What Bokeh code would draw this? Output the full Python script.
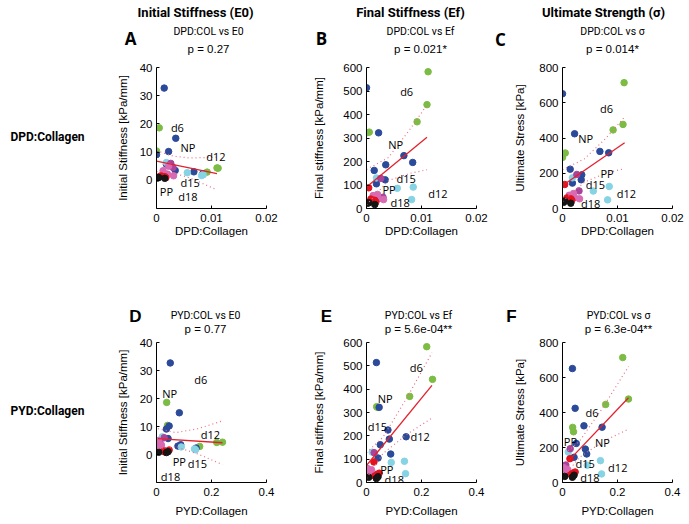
from bokeh.plotting import figure
from bokeh.models import FixedTicker, NumeralTickFormatter, Range1d, ColumnDataSource
from bokeh.layouts import row, column
from bokeh.embed import file_html
from bokeh.resources import INLINE
from bokeh.core.properties import value

# ---------------- data ----------------
sample_group = (["green"] * 5 + ["blue"] * 8 + ["cyan"] * 4 + ["magenta"] * 2 +
                ["pink"] * 4 + ["red"] * 4 + ["black"] * 3)
dpd_col = [0.0112, 0.0110, 0.0092, 0.0005, 0.0000,
           0.0000, 0.0022, 0.0068, 0.0084, 0.0035, 0.0014, 0.0018, 0.0034,
           0.0018, 0.0056, 0.0085, 0.0082,
           0.0026, 0.0030,
           0.0012, 0.0022, 0.0031, 0.0020,
           0.0004, 0.0015, 0.0017, 0.0008,
           0.0002, 0.0015, 0.0004]
pyd_col = [0.219, 0.240, 0.157, 0.037, 0.040,
           0.036, 0.046, 0.078, 0.144, 0.083, 0.050, 0.042, 0.088,
           0.021, 0.090, 0.138, 0.142,
           0.028, 0.012,
           0.018, 0.008, 0.025, 0.004,
           0.027, 0.040, 0.030, 0.046,
           0.008, 0.036, 0.042]
e0 = [4.3, 4.4, 2.9, 18.6, 10.4,
      9.1, 10.2, 3.0, 2.3, 14.9, 32.7, 5.7, 3.5,
      6.3, 2.7, 2.0, 1.7,
      6.0, 4.5,
      3.4, 5.0, 1.6, 2.2,
      1.2, 1.3, 0.9, 1.6,
      0.8, 0.7, 1.0]
ef = [582, 442, 369, 325, 322,
      514, 322, 225, 196, 186, 162, 105, 122,
      130, 86, 91, 38,
      128, 48,
      55, 42, 38, 60,
      88, 35, 28, 40,
      22, 17, 25]
sigma = [714, 477, 446, 315, 290,
         651, 424, 324, 316, 191, 223, 144, 163,
         174, 99, 125, 49,
         193, 100,
         75, 62, 55, 85,
         136, 55, 47, 60,
         35, 30, 42]

group_colors = {"green": "#7cbc44", "blue": "#2c4a9a", "cyan": "#86d3e4",
                "magenta": "#a8449a", "pink": "#d86ab4", "red": "#e3121f",
                "black": "#151515"}

# regression lines and dotted confidence bounds
fit_x = {"A": [0, 0.011], "B": [0, 0.011], "C": [0, 0.0113],
         "D": [0.005, 0.24], "E": [0, 0.238], "F": [0.02, 0.24]}
fit_y = {"A": [6.8, 2.4], "B": [91, 303], "C": [130, 373],
         "D": [5.7, 4.2], "E": [73, 416], "F": [121, 484]}
ci_x = {"A": [0, 0.003, 0.006, 0.011], "B": [0, 0.004, 0.008, 0.011],
        "C": [0, 0.004, 0.008, 0.0113], "D": [0.005, 0.07, 0.15, 0.24],
        "E": [0, 0.06, 0.15, 0.238], "F": [0.02, 0.06, 0.15, 0.24]}
ci_up = {"A": [10.5, 8.6, 7.9, 8.2], "B": [166, 217, 340, 441],
         "C": [220, 282, 402, 520], "D": [9.2, 7.8, 9.2, 12.0],
         "E": [128, 194, 369, 556], "F": [181, 232, 436, 663]}
ci_lo = {"A": [3.1, 2.6, 0.9, -3.4], "B": [16, 119, 150, 165],
         "C": [40, 150, 202, 226], "D": [2.2, 2.8, 0.2, -3.6],
         "E": [18, 124, 209, 276], "F": [61, 142, 236, 305]}

group_names = ["d6", "NP", "d12", "d15", "PP", "d18"]
name_x = {"A": [0.0038, 0.0057, 0.0108, 0.0061, 0.0018, 0.0057],
          "B": [0.0073, 0.0053, 0.0130, 0.0072, 0.0041, 0.0061],
          "C": [0.0080, 0.0042, 0.0116, 0.0060, 0.0081, 0.0051],
          "D": [0.161, 0.048, 0.196, 0.149, 0.083, 0.051],
          "E": [0.181, 0.068, 0.195, 0.040, 0.074, 0.101],
          "F": [0.107, 0.145, 0.201, 0.082, 0.029, 0.100]}
name_y = {"A": [18.7, 11.8, 8.3, -0.7, -4.1, -5.6],
          "B": [498, 271, 65, 128, 81, 24],
          "C": [568, 396, 83, 136, 197, 27],
          "D": [26.8, 21.7, 7.1, -3.1, -2.5, -7.9],
          "E": [491, 361, 197, 240, 56, 13],
          "F": [398, 230, 87, 110, 236, 27]}

titles = {"A": "DPD:COL vs E0", "B": "DPD:COL vs Ef", "C": "DPD:COL vs \u03c3",
          "D": "PYD:COL vs E0", "E": "PYD:COL vs Ef", "F": "PYD:COL vs \u03c3"}
pvals = {"A": "p = 0.27", "B": "p = 0.021*", "C": "p = 0.014*",
         "D": "p = 0.77", "E": "p = 5.6e-04**", "F": "p = 6.3e-04**"}
col_headers = ["Initial Stiffness (E0)", "Final Stiffness (Ef)", "Ultimate Strength (\u03c3)"]
row_headers = ["DPD:Collagen", "PYD:Collagen"]
y_labels = ["Initial Stiffness [kPa/mm]", "Final stiffness [kPa/mm]", "Ultimate Stress [kPa]"]
y_ranges = [(-10, 40), (0, 600), (0, 800)]
y_ticks = [[0, 10, 20, 30, 40], [0, 100, 200, 300, 400, 500, 600], [0, 200, 400, 600, 800]]
x_ranges = [(0, 0.02), (0, 0.4)]
x_ticks = [[0, 0.01, 0.02], [0, 0.2, 0.4]]

# ---------------- layout geometry (page pixels) ----------------
LEFT_W = 108
W = [182, 205, 191]
BL = [48, 76, 67]
BR = [24, 19, 14]
RIGHT_W = sum(W)
TOTAL_H = 522
H1_H = 59                      # header strip above row 1
ROW_H = [214, 187]
BT = [8, 7]
BB = [65, 40]
H2_Y = H1_H + ROW_H[0]         # 273
H2_H = 62                      # strip between the rows
YLAB_STANDOFF = [8, 15, 10]
XLAB_STANDOFF = [0, 6]

FONT = "Liberation Sans"


def strip(w, h):
    s = figure(width=w, height=h, output_backend="svg", toolbar_location=None,
               x_range=Range1d(0, w), y_range=Range1d(h, 0),
               x_axis_type=None, y_axis_type=None,
               min_border_left=0, min_border_right=0, min_border_top=0, min_border_bottom=0)
    s.outline_line_color = None
    s.background_fill_color = "white"
    s.border_fill_color = "white"
    return s


def put_text(s, ox, oy, px, py, text, font, size, style="normal"):
    s.text(x=[px - ox], y=[py - oy], text=[text], text_font=value(font),
           text_font_size=size, text_font_style=style, text_color="black",
           text_align="center", text_baseline="middle")


xdata = [dpd_col, pyd_col]
ydata = [e0, ef, sigma]
letters = [["A", "B", "C"], ["D", "E", "F"]]

figs = [[None] * 3 for _ in range(2)]
for r in range(2):
    for c in range(3):
        key = letters[r][c]
        p = figure(width=W[c], height=ROW_H[r], output_backend="svg", toolbar_location=None,
                   x_range=Range1d(*x_ranges[r]), y_range=Range1d(*y_ranges[c]),
                   min_border_left=BL[c], min_border_right=BR[c],
                   min_border_top=BT[r], min_border_bottom=BB[r])
        p.outline_line_color = None
        p.xgrid.visible = False
        p.ygrid.visible = False
        p.background_fill_color = "white"
        p.border_fill_color = "white"
        for ax in (p.xaxis[0], p.yaxis[0]):
            ax.axis_line_color = "black"
            ax.axis_line_width = 1
            ax.major_tick_line_color = "black"
            ax.major_tick_in = 3
            ax.major_tick_out = 0
            ax.minor_tick_line_color = None
            ax.major_label_text_font = FONT
            ax.major_label_text_font_size = "11.5px"
            ax.major_label_text_color = "black"
            ax.axis_label_text_font = FONT
            ax.axis_label_text_font_size = "11.5px"
            ax.axis_label_text_font_style = "normal"
            ax.axis_label_text_color = "black"
        p.xaxis[0].ticker = FixedTicker(ticks=x_ticks[r])
        p.xaxis[0].formatter = NumeralTickFormatter(format="0.[00]")
        p.xaxis[0].axis_label = row_headers[r]
        p.xaxis[0].major_label_standoff = 5
        p.xaxis[0].axis_label_standoff = XLAB_STANDOFF[r]
        p.yaxis[0].ticker = FixedTicker(ticks=y_ticks[c])
        p.yaxis[0].axis_label = y_labels[c]
        p.yaxis[0].major_label_standoff = 4
        p.yaxis[0].axis_label_standoff = YLAB_STANDOFF[c]

        src = ColumnDataSource(dict(x=xdata[r], y=ydata[c],
                                    color=[group_colors[g] for g in sample_group]))
        p.scatter("x", "y", source=src, size=6.5, fill_color="color", line_color="color")

        p.line(ci_x[key], ci_up[key], line_color="#ec6f86", line_width=1.2, line_dash="1 3")
        p.line(ci_x[key], ci_lo[key], line_color="#ec6f86", line_width=1.2, line_dash="1 3")
        p.line(fit_x[key], fit_y[key], line_color="#e4202c", line_width=1.3)

        p.text(x=name_x[key], y=name_y[key], text=group_names, text_font=value("Open Sans"),
               text_font_size="11px", text_align="center", text_baseline="middle",
               text_color="black")
        figs[r][c] = p

# ---------------- text strips ----------------
left = strip(LEFT_W, TOTAL_H)
rowhead_pos = [(47, 136), (47, 410)]
for r in range(2):
    put_text(left, 0, 0, rowhead_pos[r][0], rowhead_pos[r][1], row_headers[r],
             "Roboto", "12px", "bold")

h1 = strip(RIGHT_W, H1_H)
h2 = strip(RIGHT_W, H2_H)
header_pos = [(195, 12), (410, 12), (603, 12)]
for c in range(3):
    put_text(h1, LEFT_W, 0, header_pos[c][0], header_pos[c][1], col_headers[c],
             "Roboto", "13px", "bold")

letter_pos = {"A": (130, 38), "B": (321, 38), "C": (500, 39),
              "D": (135, 316), "E": (326, 316), "F": (511, 316)}
title_pos = {"A": (208, 31, 48), "B": (420, 31, 48), "C": (612, 31, 48),
             "D": (205, 315, 328), "E": (418, 315, 328), "F": (618, 315, 328)}
for r, (s, oy) in enumerate([(h1, 0), (h2, H2_Y)]):
    for c in range(3):
        key = letters[r][c]
        lx, ly = letter_pos[key]
        put_text(s, LEFT_W, oy, lx, ly, key, "Open Sans" if r == 0 else FONT, "17px", "bold")
        tx, ty1, ty2 = title_pos[key]
        put_text(s, LEFT_W, oy, tx, ty1, titles[key], "Roboto", "10.5px")
        put_text(s, LEFT_W, oy, tx, ty2, pvals[key], FONT, "11.5px")

right = column(h1, row(*figs[0], spacing=0), h2, row(*figs[1], spacing=0), spacing=0)
layout = row(left, right, spacing=0)
open("out.html", "w").write(file_html(layout, INLINE))
